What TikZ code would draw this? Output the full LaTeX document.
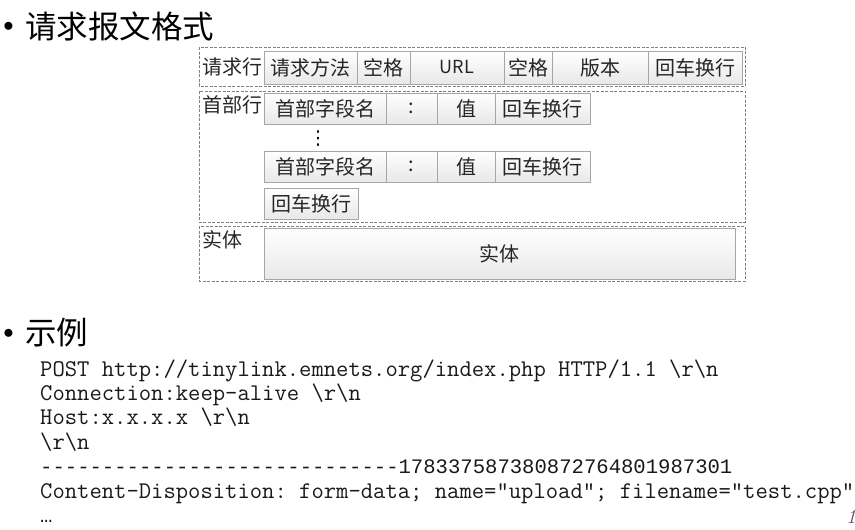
\documentclass[tikz,border=0pt]{standalone}
\usepackage{fontspec}
\newfontfamily\cjk{Noto Sans CJK SC}
\newfontfamily\sansmono{Liberation Mono}
\newfontfamily\symfont{DejaVu Sans}
\usetikzlibrary{positioning, shadows}
\definecolor{pagenum}{HTML}{7A3A6E}
\tikzset{
  cell/.style = {draw = gray!70, top color = white, bottom color = gray!18, inner sep = 0pt, outer sep = 0pt, minimum height = 31pt, text = black!85, font = \cjk\fontsize{20}{20}\selectfont, drop shadow = {shadow xshift = 1pt, shadow yshift = -1pt, opacity = .25, fill = gray}},
  group/.style = {draw = gray, dash pattern = on 3pt off 1.5pt, line width = .7pt},
  grouplabel/.style = {anchor = west, inner sep = 1pt, text = black!85, font = \cjk\fontsize{20}{20}\selectfont},
  heading/.style = {anchor = west, inner sep = 0pt, font = \cjk\fontsize{31.5}{32}\selectfont},
  dot/.style = {inner sep = 0pt, font = \fontsize{22}{22}\selectfont},
  codeline/.style = {anchor = base west, inner sep = 0pt, text = black!90, font = \ttfamily\frenchspacing\fontsize{23.95}{23.95}\selectfont},
  sansline/.style = {anchor = base west, inner sep = 0pt, text = black!90, font = \sansmono\fontsize{20.6}{20.6}\selectfont}
}

\begin{document}
\begin{tikzpicture} [x = 1pt, y = -1pt]
\useasboundingbox (0, 0) rectangle (855, 530);
\node[dot] (b1) at (8.5, 27) {$\bullet$};
\node[heading] (title1) at (25, 26) {请求报文格式};
\draw [group] (199, 47) rectangle (745, 86);
\draw [group] (199, 91) rectangle (745, 222);
\draw [group] (199, 226) rectangle (745, 281);
\node[grouplabel] (lrq) at (201, 67) {请求行};
\node[grouplabel] (lhd) at (201, 105) {首部行};
\node[grouplabel] (lbd) at (201, 240) {实体};
\node[cell, minimum height = 33pt, minimum width = 93pt, anchor = west] (rq1) at (264, 67.5) {请求方法};
\node[cell, minimum height = 33pt, minimum width = 53pt, right = 0pt of rq1] (rq2) {空格};
\node[cell, minimum height = 33pt, minimum width = 94pt, right = 0pt of rq2, font = \cjk\fontsize{18}{18}\selectfont] (rq3) {URL};
\node[cell, minimum height = 33pt, minimum width = 48pt, right = 0pt of rq3] (rq4) {空格};
\node[cell, minimum height = 33pt, minimum width = 96pt, right = 0pt of rq4] (rq5) {版本};
\node[cell, minimum height = 33pt, minimum width = 94pt, right = 0pt of rq5] (rq6) {回车换行};
\node[cell, minimum width = 122pt, anchor = west] (ha1) at (264, 108.5) {首部字段名};
\node[cell, minimum width = 51pt, right = 0pt of ha1] (ha2) {:};
\node[cell, minimum width = 58pt, right = 0pt of ha2] (ha3) {值};
\node[cell, minimum width = 95pt, right = 0pt of ha3] (ha4) {回车换行};
\node[inner sep = 0pt, font = \symfont\fontsize{19}{19}\selectfont] (vdots) at (318, 139) {⋮};
\node[cell, minimum width = 122pt, anchor = west] (hb1) at (264, 166.5) {首部字段名};
\node[cell, minimum width = 51pt, right = 0pt of hb1] (hb2) {:};
\node[cell, minimum width = 58pt, right = 0pt of hb2] (hb3) {值};
\node[cell, minimum width = 95pt, right = 0pt of hb3] (hb4) {回车换行};
\node[cell, minimum width = 94pt, anchor = west] (crlf) at (264, 203.5) {回车换行};
\node[cell, minimum width = 471pt, minimum height = 51pt, anchor = west] (body) at (264, 253.5) {实体};
\node[dot] (b2) at (8.5, 334) {$\bullet$};
\node[heading] (title2) at (25, 333) {示例};
\node[codeline] (c1) at (40, 376) {POST http://tinylink.emnets.org/index.php HTTP/1.1 \textbackslash r\textbackslash n};
\node[codeline] (c2) at (40, 400.4) {Connection:keep-alive \textbackslash r\textbackslash n};
\node[codeline] (c3) at (40, 424.8) {Host:x.x.x.x \textbackslash r\textbackslash n};
\node[codeline] (c4) at (40, 449.2) {\textbackslash r\textbackslash n};
\node[sansline] (c5) at (40, 473.6) {-----------------------------178337587380872764801987301};
\node[codeline] (c6) at (40, 498) {Content-Disposition: form-data; name="upload"; filename="test.cpp"};
\node[sansline] (c7) at (40, 522.4) {…};
\node[inner sep = 0pt, text = pagenum, font = \itshape\fontsize{20}{20}\selectfont] (pnum) at (851, 517) {1};
\end{tikzpicture}
\end{document}
